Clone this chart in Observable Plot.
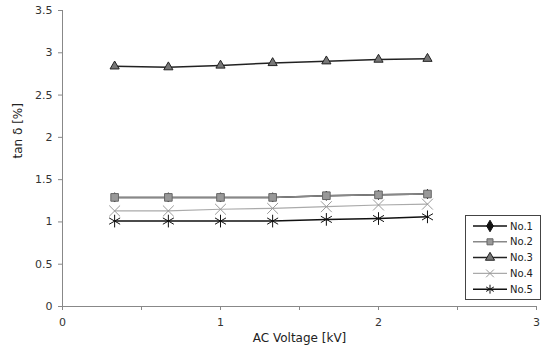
<!DOCTYPE html>
<html>
<head>
<meta charset="utf-8">
<script src="https://cdn.jsdelivr.net/npm/d3@7"></script>
<script src="https://cdn.jsdelivr.net/npm/@observablehq/plot@0.6"></script>
<style>
  body { margin: 0; background: #fff; }
  #wrap { position: relative; width: 545px; height: 350px; font-family: "DejaVu Sans", Verdana, sans-serif; }
  #legend { position: absolute; left: 465px; top: 215px; }
</style>
</head>
<body>
<div id="wrap"></div>
<script>
const voltages = [0.33, 0.67, 1.0, 1.33, 1.67, 2.0, 2.31];
const seriesNames = ["No.1", "No.2", "No.3", "No.4", "No.5"];
const no1 = [1.29, 1.29, 1.29, 1.29, 1.31, 1.32, 1.33];
const no2 = [1.29, 1.29, 1.29, 1.29, 1.31, 1.32, 1.33];
const no3 = [2.84, 2.83, 2.85, 2.88, 2.90, 2.92, 2.93];
const no4 = [1.13, 1.13, 1.15, 1.16, 1.18, 1.20, 1.21];
const no5 = [1.01, 1.01, 1.01, 1.01, 1.03, 1.04, 1.06];
const xTicks = [0, 0.5, 1, 1.5, 2, 2.5, 3];
const yTicks = [0, 0.5, 1, 1.5, 2, 2.5, 3, 3.5];

const values = [no1, no2, no3, no4, no5];
const styles = [
  {line: "#111", lw: 1.5, symbol: "diamond", fill: "#111", mstroke: "#111", r: 2.8, lr: 3.5},
  {line: "#888", lw: 1.5, symbol: "square", fill: "#999", mstroke: "#666", r: 4.3, lr: 3.4},
  {line: "#222", lw: 1.5, symbol: "triangle", fill: "#777", mstroke: "#222", r: 3.4, lr: 3.4},
  {line: "#aaa", lw: 1.2, symbol: "times", fill: "none", mstroke: "#999", r: 5, lr: 3.6},
  {line: "#111", lw: 1.5, symbol: "asterisk", fill: "none", mstroke: "#111", r: 6, lr: 4.2}
];

const rows = seriesNames.map((name, i) => voltages.map((v, j) => ({series: name, x: v, y: values[i][j]})));

const marks = [
  Plot.ruleY([0], {stroke: "#888"}),
  Plot.ruleX([0], {stroke: "#888"}),
  Plot.axisX({ticks: xTicks, tickSize: 4, tickFormat: d => Number.isInteger(d) ? String(d) : "", label: null, fontSize: 11, tickPadding: 8, stroke: "#888", color: "#333"}),
  Plot.axisY({ticks: yTicks, tickSize: 4, tickFormat: d => String(d), label: null, fontSize: 11, tickPadding: 6, stroke: "#888", color: "#333"}),
  Plot.text(["tan δ [%]"], {frameAnchor: "left", dx: -44, rotate: -90, fontSize: 12, fill: "#222"}),
  Plot.text(["AC Voltage [kV]"], {frameAnchor: "bottom", dy: 35, fontSize: 12, fill: "#222"})
];
rows.forEach((r, i) => {
  const s = styles[i];
  marks.push(Plot.line(r, {x: "x", y: "y", stroke: s.line, strokeWidth: s.lw}));
});
rows.forEach((r, i) => {
  const s = styles[i];
  marks.push(Plot.dot(r, {x: "x", y: "y", symbol: () => s.symbol, fill: s.fill, stroke: s.mstroke, strokeWidth: 1, r: s.r}));
});

const chart = Plot.plot({
  width: 545,
  height: 350,
  marginLeft: 62,
  marginRight: 9,
  marginTop: 10,
  marginBottom: 44,
  style: {fontFamily: "DejaVu Sans, Verdana, sans-serif", background: "#fff"},
  x: {domain: [0, 3]},
  y: {domain: [0, 3.5]},
  marks
});
document.getElementById("wrap").appendChild(chart);

// legend (inside plot area, as in the reference)
const lw = 76, lh = 85;
const leg = d3.select("#wrap").append("svg").attr("id", "legend").attr("width", lw).attr("height", lh);
leg.append("rect").attr("x", 0.5).attr("y", 0.5).attr("width", lw - 1).attr("height", lh - 1).attr("fill", "#fff").attr("stroke", "#444");
const symMap = {diamond: d3.symbolDiamond, square: d3.symbolSquare, triangle: d3.symbolTriangle, times: d3.symbolTimes, asterisk: d3.symbolAsterisk};
seriesNames.forEach((name, i) => {
  const s = styles[i];
  const y = 11 + i * 15.8;
  const g = leg.append("g");
  g.append("line").attr("x1", 8).attr("x2", 42).attr("y1", y).attr("y2", y).attr("stroke", s.line).attr("stroke-width", s.lw);
  g.append("path").attr("d", d3.symbol(symMap[s.symbol], Math.PI * s.lr ** 2)()).attr("transform", `translate(25,${y})`)
    .attr("fill", s.fill).attr("stroke", s.mstroke);
  g.append("text").attr("x", 45).attr("y", y).attr("dy", "0.35em").attr("font-size", 10).attr("fill", "#222")
    .attr("font-family", "DejaVu Sans, Verdana, sans-serif").text(name);
});
</script>
</body>
</html>
